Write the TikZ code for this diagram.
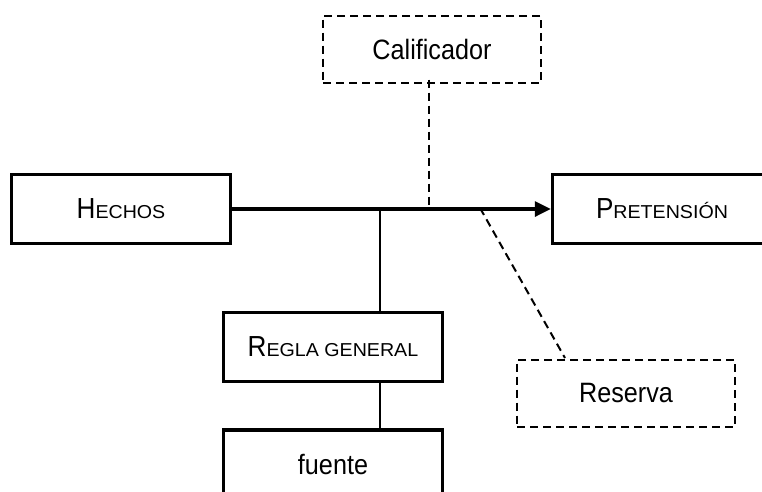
\documentclass[tikz,border=0pt]{standalone}
\usepackage{fontspec}
\setmainfont{Liberation Sans}[FakeStretch=0.9]
\newfontfamily\scfont{Liberation Sans}[FakeStretch=1.05]
\usetikzlibrary{positioning, arrows.meta}

\newcommand{\fakesc}[2]{{\fontsize{29}{32}\selectfont #1}{\scfont\fontsize{18.7}{22}\selectfont #2}}

\begin{document}
\begin{tikzpicture}[x=1pt, y=-1pt,
    box/.style={draw, line width=3.4pt, minimum width=219pt, minimum height=69pt,
      inner sep=0pt, font=\fontsize{28}{32}\selectfont},
    dbox/.style={draw, dashed, line width=2pt, dash pattern=on 8pt off 5pt,
      minimum width=218pt, minimum height=67pt, inner sep=0pt,
      font=\fontsize{28}{32}\selectfont},
    thin line/.style={line width=1.8pt},
    dash line/.style={line width=2pt, dash pattern=on 8pt off 5pt}]
  \path[use as bounding box] (0,0) rectangle (762,491);
  \clip (0,0) rectangle (762,491);
  \node[box] (hechos) at (121,209) {\fakesc{H}{ECHOS}};
  \node[box] (pret) at (662,209) {\fakesc{P}{RETENSIÓN}};
  \node[box] (regla) at (333,347) {\fakesc{R}{EGLA GENERAL}};
  \node[box, below=45pt of regla] (fuente) {fuente};
  \node[dbox] (calif) at (432,49) {Calificador};
  \node[dbox] (reserva) at (626,393) {Reserva};
  \coordinate (j1) at (380,208);
  \coordinate (j2) at (429,208);
  \coordinate (j3) at (480,208);
  \coordinate (r1) at (565,358);
  % main claim
  \draw[line width=3.2pt, -{Triangle[length=16pt,width=15pt]}] (hechos) -- (pret);
  \draw[thin line] (j1) -- (j1 |- regla.north);
  \draw[thin line] (j1 |- regla.south) -- (j1 |- fuente.north);
  % qualifier and rebuttal
  \draw[dash line] ([yshift=4pt]j2 |- calif.south) -- (j2);
  \draw[dash line] (j3) -- (r1);
\end{tikzpicture}
\end{document}
